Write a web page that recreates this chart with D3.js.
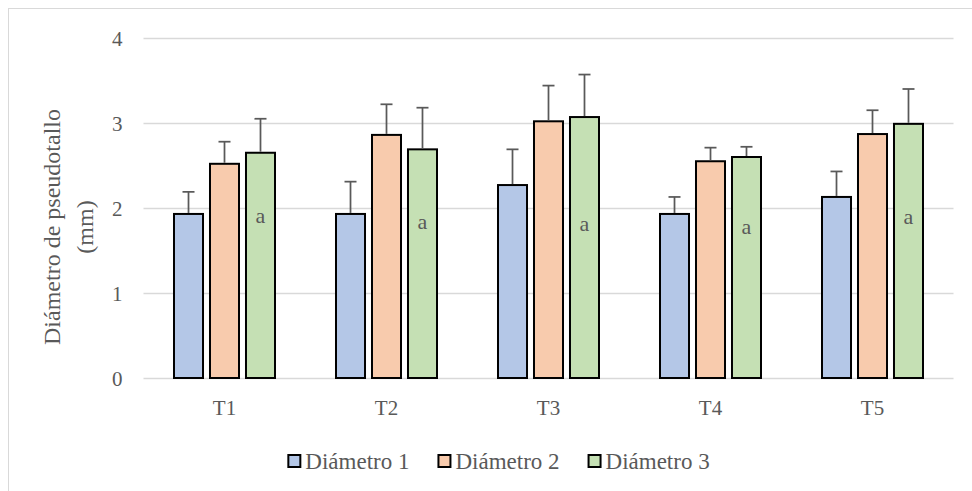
<!DOCTYPE html>
<html>
<head>
<meta charset="utf-8">
<script src="https://cdn.jsdelivr.net/npm/d3@7"></script>
<style>
  html, body { margin: 0; padding: 0; background: #fff; }
  svg { display: block; }
  text { font-family: "Liberation Serif", "Times New Roman", serif; fill: #595959; }
</style>
</head>
<body>
<div id="chart"></div>
<script>
// ---- data ----
const categories = ["T1", "T2", "T3", "T4", "T5"];
const seriesNames = ["Diámetro 1", "Diámetro 2", "Diámetro 3"];
const diametro1 = [1.93, 1.93, 2.27, 1.93, 2.13];
const diametro2 = [2.52, 2.86, 3.02, 2.55, 2.87];
const diametro3 = [2.65, 2.69, 3.07, 2.60, 2.99];
const error1 = [0.26, 0.38, 0.42, 0.20, 0.30];
const error2 = [0.26, 0.36, 0.42, 0.16, 0.28];
const error3 = [0.40, 0.49, 0.50, 0.12, 0.41];
const letterLabels = ["a", "a", "a", "a", "a"];
const letterValues = [1.88, 1.80, 1.78, 1.75, 1.86];
const yTicks = [0, 1, 2, 3, 4];
const colors = ["#b4c7e7", "#f8cbad", "#c5e0b4"];

const W = 972, H = 491;
const margin = { left: 143.5, right: W - 953.5, top: 38, bottom: H - 378 };

const svg = d3.select("#chart").append("svg").attr("width", W).attr("height", H);

// chart area border
svg.append("rect").attr("x", 8.5).attr("y", 8.5).attr("width", 1200).attr("height", 1200)
  .attr("fill", "none").attr("stroke", "#d9d9d9").attr("stroke-width", 1);

const x0 = d3.scaleBand().domain(categories)
  .range([margin.left, W - margin.right])
  .paddingInner(0.3765).paddingOuter(0.3765 / 2);
const x1 = d3.scaleBand().domain(seriesNames)
  .range([0, x0.bandwidth()]).paddingInner(0.194).paddingOuter(0);
const y = d3.scaleLinear().domain([0, 4]).range([378, 38]);

// gridlines
const yAxis = d3.axisLeft(y).tickValues(yTicks).tickSize(-(W - margin.right - margin.left)).tickFormat(d3.format("d"));
const gy = svg.append("g").attr("transform", `translate(${margin.left},0)`).call(yAxis);
gy.attr("font-family", null);
gy.select(".domain").remove();
gy.selectAll(".tick line").attr("stroke", "#d9d9d9").attr("stroke-width", 1.5);
gy.selectAll(".tick text").attr("x", -21).attr("dy", "0.34em")
  .style("font-size", "21px").attr("fill", "#595959");

// x axis labels
const xAxis = d3.axisBottom(x0).tickSize(0);
const gx = svg.append("g").attr("transform", `translate(0,378)`).call(xAxis);
gx.attr("font-family", null);
gx.select(".domain").remove();
gx.selectAll(".tick text").attr("y", 22).attr("dy", "0.71em")
  .style("font-size", "21px").attr("fill", "#595959");

const seriesData = [diametro1, diametro2, diametro3];
const errorData = [error1, error2, error3];

seriesNames.forEach((s, si) => {
  const g = svg.append("g");
  const rows = categories.map((c, i) => ({ c, v: seriesData[si][i], e: errorData[si][i], i }));
  g.selectAll("rect").data(rows).enter().append("rect")
    .attr("x", d => x0(d.c) + x1(s))
    .attr("y", d => y(d.v))
    .attr("width", x1.bandwidth())
    .attr("height", d => y(0) - y(d.v))
    .attr("fill", colors[si])
    .attr("stroke", "#000").attr("stroke-width", 2);
  // error bars (plus direction)
  const eg = g.selectAll("g.err").data(rows).enter().append("g");
  eg.append("line")
    .attr("x1", d => x0(d.c) + x1(s) + x1.bandwidth() / 2)
    .attr("x2", d => x0(d.c) + x1(s) + x1.bandwidth() / 2)
    .attr("y1", d => y(d.v) - 1)
    .attr("y2", d => y(d.v + d.e))
    .attr("stroke", "#595959").attr("stroke-width", 1.75);
  eg.append("line")
    .attr("x1", d => x0(d.c) + x1(s) + x1.bandwidth() / 2 - 6)
    .attr("x2", d => x0(d.c) + x1(s) + x1.bandwidth() / 2 + 6)
    .attr("y1", d => y(d.v + d.e))
    .attr("y2", d => y(d.v + d.e))
    .attr("stroke", "#595959").attr("stroke-width", 1.75);
});

// letter labels inside Diámetro 3 bars
svg.append("g").selectAll("text").data(categories).enter().append("text")
  .attr("x", c => x0(c) + x1(seriesNames[2]) + x1.bandwidth() / 2)
  .attr("y", (c, i) => y(letterValues[i]))
  .attr("dy", "0.2em")
  .attr("text-anchor", "middle")
  .style("font-size", "22px").attr("fill", "#404040")
  .text((c, i) => letterLabels[i]);

// y-axis title
const title = svg.append("text")
  .attr("transform", "translate(0,227) rotate(-90)")
  .attr("text-anchor", "middle")
  .style("font-size", "24px");
title.append("tspan").attr("x", 0).attr("y", 60).text("Diámetro de pseudotallo");
title.append("tspan").attr("x", 0).attr("y", 93).text("(mm)");

// legend
const legend = svg.append("g");
const items = legend.selectAll("g").data(seriesNames).enter().append("g");
items.append("rect").attr("width", 12).attr("height", 12).attr("y", -6)
  .attr("fill", (d, i) => colors[i]).attr("stroke", "#000").attr("stroke-width", 2);
items.append("text").attr("x", 17).attr("dy", "0.34em")
  .style("font-size", "23px").text(d => d);
let cx = 0;
const gap = 29;
items.each(function () {
  const w = this.getBBox().width;
  d3.select(this).attr("transform", `translate(${cx},0)`);
  cx += w + gap;
});
const totalW = cx - gap;
legend.attr("transform", `translate(${499 - totalW / 2},461)`);
</script>
</body>
</html>
